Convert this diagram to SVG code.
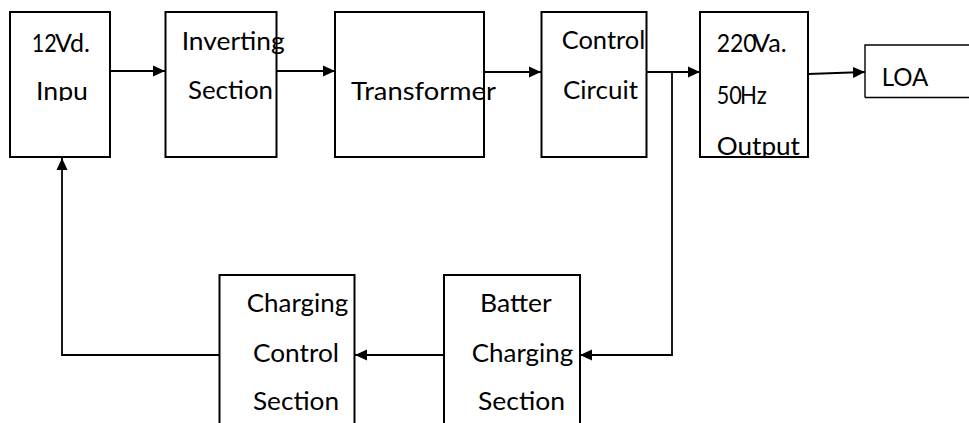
<svg xmlns="http://www.w3.org/2000/svg" width="969" height="423" viewBox="0 0 969 423">
<style>
.box{fill:#fff;stroke:#000;stroke-width:2}
.line{fill:none;stroke:#000;stroke-width:1.8}
text{font-family:Lato,"Open Sans","Liberation Sans",sans-serif;font-size:25px;fill:#000}
</style>
<defs>
<marker id="arr" markerUnits="userSpaceOnUse" markerWidth="12" markerHeight="12" refX="12" refY="6" orient="auto">
<path d="M0,0.5 L12,6 L0,11.5 z" fill="#000"/>
</marker>
<clipPath id="clipInpu"><rect x="0" y="0" width="120" height="101"/></clipPath>
<clipPath id="clipOut"><rect x="700" y="0" width="120" height="156"/></clipPath>
</defs>
<rect width="969" height="423" fill="#fff"/>
<g id="connectors">
<path class="line" d="M110,71 H165" marker-end="url(#arr)"/>
<path class="line" d="M277,71 H335" marker-end="url(#arr)"/>
<path class="line" d="M484,72 H541" marker-end="url(#arr)"/>
<path class="line" d="M647,72 H700" marker-end="url(#arr)"/>
<path class="line" d="M808,74 L865,72" marker-end="url(#arr)"/>
<path class="line" d="M672,72 V355 H580" marker-end="url(#arr)"/>
<path class="line" d="M444,355 H355" marker-end="url(#arr)"/>
<path class="line" d="M219,355 H62 V158" marker-end="url(#arr)"/>
</g>
<g id="input">
<rect class="box" x="10" y="12" width="100" height="145"/>
<text y="51.7"><tspan x="31.7" textLength="25" lengthAdjust="spacingAndGlyphs">12</tspan><tspan x="55" textLength="35" lengthAdjust="spacingAndGlyphs">Vd.</tspan></text>
<text x="36" y="100" textLength="52" lengthAdjust="spacingAndGlyphs" clip-path="url(#clipInpu)">Inpu</text>
</g>
<g id="inverting">
<rect class="box" x="165.5" y="12" width="111" height="145"/>
<text x="181.7" y="50" textLength="103" lengthAdjust="spacingAndGlyphs">Inverting</text>
<text x="188" y="99" textLength="85" lengthAdjust="spacingAndGlyphs">Section</text>
</g>
<g id="transformer">
<rect class="box" x="335" y="12" width="149" height="145"/>
<text x="351" y="100" textLength="145" lengthAdjust="spacingAndGlyphs">Transformer</text>
</g>
<g id="control">
<rect class="box" x="541.5" y="12" width="105" height="145"/>
<text x="561.7" y="48.5" textLength="83.5" lengthAdjust="spacingAndGlyphs">Control</text>
<text x="563" y="99" textLength="75" lengthAdjust="spacingAndGlyphs">Circuit</text>
</g>
<g id="output">
<rect class="box" x="700" y="12" width="108" height="145"/>
<text y="51.7"><tspan x="716.7" textLength="40" lengthAdjust="spacingAndGlyphs">220</tspan><tspan x="753" textLength="33.7" lengthAdjust="spacingAndGlyphs">Va.</tspan></text>
<text y="104.3"><tspan x="716.7" textLength="25" lengthAdjust="spacingAndGlyphs">50</tspan><tspan x="740" textLength="26.7" lengthAdjust="spacingAndGlyphs">Hz</tspan></text>
<text x="716.7" y="155" textLength="83.3" lengthAdjust="spacingAndGlyphs" clip-path="url(#clipOut)">Output</text>
</g>
<g id="load">
<path d="M865,97.5 V45 H970 M865,97.5 H970" fill="#fff" stroke="#000" stroke-width="1.4"/>
<text x="881.7" y="85.7" textLength="46.6" lengthAdjust="spacingAndGlyphs">LOA</text>
</g>
<g id="charging-control">
<rect class="box" x="219.5" y="275" width="135" height="160"/>
<text x="246.7" y="311.7" textLength="101.6" lengthAdjust="spacingAndGlyphs">Charging</text>
<text x="253" y="361.7" textLength="86" lengthAdjust="spacingAndGlyphs">Control</text>
<text x="253" y="410" textLength="86" lengthAdjust="spacingAndGlyphs">Section</text>
</g>
<g id="battery-charging">
<rect class="box" x="444" y="275" width="136" height="160"/>
<text x="480" y="311.7" textLength="71.7" lengthAdjust="spacingAndGlyphs">Batter</text>
<text x="471.7" y="361.7" textLength="101.6" lengthAdjust="spacingAndGlyphs">Charging</text>
<text x="478" y="410" textLength="87" lengthAdjust="spacingAndGlyphs">Section</text>
</g>
</svg>
